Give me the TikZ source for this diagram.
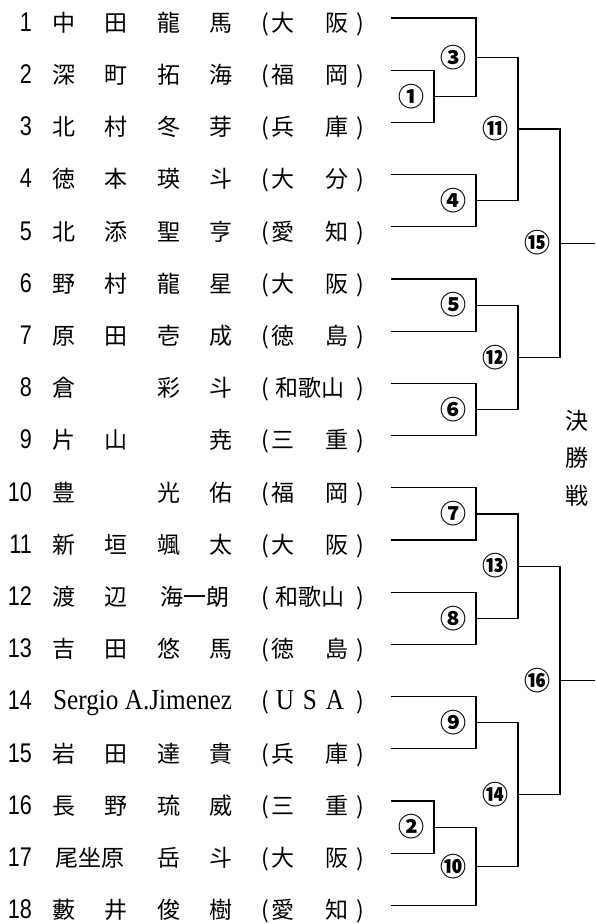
\documentclass[tikz,border=0pt]{standalone}
\usepackage{fontspec}
\setmainfont{Noto Sans CJK JP}
\newfontfamily\numfont[FakeStretch=0.8]{Liberation Sans}
\newfontfamily\latfont[FakeStretch=0.87]{Liberation Serif}
\usetikzlibrary{calc}

\tikzstyle{seed} = [anchor=base east, inner sep=0pt, font=\numfont\fontsize{27}{27}\selectfont]
\tikzstyle{player} = [anchor=base west, inner sep=0pt, font=\fontsize{23}{23}\selectfont]
\tikzstyle{pref} = [anchor=base, inner sep=0pt, font=\fontsize{23}{23}\selectfont]
\tikzstyle{num} = [inner sep=0pt, font=\bfseries\fontsize{26}{26}\selectfont]
\tikzstyle{finallbl} = [align=center, inner sep=0pt, font=\fontsize{23}{37.5}\selectfont]
\tikzstyle{wire} = [line width=1.2pt]

\newcommand\kb[1]{\makebox[52.3pt]{#1}}
\newcommand\pb[1]{\makebox[54pt]{#1}}
\newcommand\usa[1]{\makebox[25pt]{\latfont\fontsize{29}{29}\selectfont #1}}

% one row: number, name, prefecture, start of its line
\newcommand\entry[3]{%
  \coordinate (p#1) at (391, {18+52.2*(#1-1)});
  \node[seed] (s#1) at (32, {31.2+52.2*(#1-1)}) {#1};
  \node[player] (n#1) at (37.85, {31.2+52.2*(#1-1)}) {#2};
  \node[pref] (o#1) at (265, {31.2+52.2*(#1-1)}) {(};
  \node[pref] (f#1) at (310, {31.2+52.2*(#1-1)}) {#3};
  \node[pref] (c#1) at (360, {31.2+52.2*(#1-1)}) {)};
}

% one bout: id, upper, lower, column, label
\newcommand\bout[5]{%
  \coordinate (h#1) at ($(#2)!.5!(#3)$);
  \coordinate (b#1) at (#4,0 |- h#1);
  \draw[wire] (#2) -| (b#1) |- (#3);
  \node[num] (l#1) at ([xshift=-23pt]b#1) {#5};
}

\begin{document}
\begin{tikzpicture}[x=1pt, y=-1pt]
\useasboundingbox (0,0) rectangle (595,924);

% Players
\entry{1}{\kb{中}\kb{田}\kb{龍}\kb{馬}}{\pb{大}\pb{阪}}
\entry{2}{\kb{深}\kb{町}\kb{拓}\kb{海}}{\pb{福}\pb{岡}}
\entry{3}{\kb{北}\kb{村}\kb{冬}\kb{芽}}{\pb{兵}\pb{庫}}
\entry{4}{\kb{徳}\kb{本}\kb{瑛}\kb{斗}}{\pb{大}\pb{分}}
\entry{5}{\kb{北}\kb{添}\kb{聖}\kb{亨}}{\pb{愛}\pb{知}}
\entry{6}{\kb{野}\kb{村}\kb{龍}\kb{星}}{\pb{大}\pb{阪}}
\entry{7}{\kb{原}\kb{田}\kb{壱}\kb{成}}{\pb{徳}\pb{島}}
\entry{8}{\kb{倉}\kb{}\kb{彩}\kb{斗}}{和歌山}
\entry{9}{\kb{片}\kb{山}\kb{}\kb{尭}}{\pb{三}\pb{重}}
\entry{10}{\kb{豊}\kb{}\kb{光}\kb{佑}}{\pb{福}\pb{岡}}
\entry{11}{\kb{新}\kb{垣}\kb{颯}\kb{太}}{\pb{大}\pb{阪}}
\entry{12}{\kb{渡}\kb{辺}\makebox[104.6pt]{海一朗}}{和歌山}
\entry{13}{\kb{吉}\kb{田}\kb{悠}\kb{馬}}{\pb{徳}\pb{島}}
\entry{14}{\makebox[209.2pt]{\latfont\fontsize{29}{29}\selectfont Sergio A.Jimenez}}{\usa{U}\usa{S}\usa{A}}
\entry{15}{\kb{岩}\kb{田}\kb{達}\kb{貴}}{\pb{兵}\pb{庫}}
\entry{16}{\kb{長}\kb{野}\kb{琉}\kb{威}}{\pb{三}\pb{重}}
\entry{17}{\makebox[104.6pt]{尾坐原}\kb{岳}\kb{斗}}{\pb{大}\pb{阪}}
\entry{18}{\kb{藪}\kb{井}\kb{俊}\kb{樹}}{\pb{愛}\pb{知}}

% Bracket
\bout{1}{p2}{p3}{434}{①}
\bout{3}{p1}{b1}{476}{③}
\bout{4}{p4}{p5}{476}{④}
\bout{11}{b3}{b4}{518}{⑪}
\bout{5}{p6}{p7}{476}{⑤}
\bout{6}{p8}{p9}{476}{⑥}
\bout{12}{b5}{b6}{518}{⑫}
\bout{15}{b11}{b12}{560}{⑮}
\bout{7}{p10}{p11}{476}{⑦}
\bout{8}{p12}{p13}{476}{⑧}
\bout{13}{b7}{b8}{518}{⑬}
\bout{9}{p14}{p15}{476}{⑨}
\bout{2}{p16}{p17}{434}{②}
\bout{10}{b2}{p18}{476}{⑩}
\bout{14}{b9}{b10}{518}{⑭}
\bout{16}{b13}{b14}{560}{⑯}

% Final
\coordinate (edge) at (595,0);
\draw[wire] (b15) -- (b15 -| edge);
\draw[wire] (b16) -- (b16 -| edge);
\node[finallbl] (final) at (577,458) {決\\勝\\戦};

\end{tikzpicture}
\end{document}
